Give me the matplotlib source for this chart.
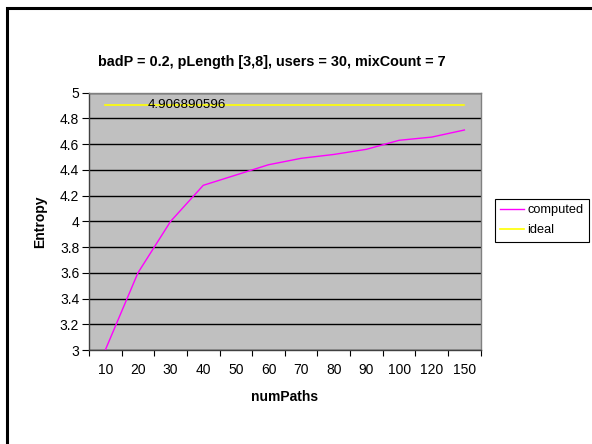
import matplotlib.pyplot as plt
import matplotlib.patches as mpatches
import numpy as np

plt.rcParams['font.family'] = ['Liberation Sans', 'DejaVu Sans']

num_paths = ['10', '20', '30', '40', '50', '60', '70', '80', '90', '100', '120', '150']
computed = [3.00, 3.60, 4.00, 4.28, 4.36, 4.44, 4.49, 4.52, 4.56, 4.63, 4.655, 4.71]
ideal_value = 4.906890596
ideal = [ideal_value] * len(num_paths)

fig = plt.figure(figsize=(5.92, 4.44), dpi=100)
fig.patch.set_facecolor('white')

# outer chart frame
frame = mpatches.Rectangle((7 / 592, -0.05), 1.2, 1.05 - 8 / 444,
                           transform=fig.transFigure, fill=False,
                           edgecolor='black', linewidth=2.2)
fig.patches.append(frame)

ax = fig.add_axes([89 / 592, 1 - 350 / 444, (480.7 - 89) / 592, (350 - 92.7) / 444])
ax.set_facecolor('#C0C0C0')

x = np.arange(len(num_paths))
ax.plot(x, computed, color='#FF00FF', linewidth=1.0, label='computed', zorder=3)
ax.plot(x, ideal, color='#FFFF00', linewidth=1.2, label='ideal', zorder=3)
ax.text(2.5, ideal_value, '4.906890596', ha='center', va='center',
        fontsize=9.6, color='black', zorder=4)

ax.set_xlim(-0.5, len(num_paths) - 0.5)
ax.set_ylim(3, 5)
ax.set_yticks(np.arange(3, 5.01, 0.2))
ax.set_yticklabels(['3', '3.2', '3.4', '3.6', '3.8', '4', '4.2', '4.4', '4.6', '4.8', '5'])
ax.yaxis.grid(True, color='black', linewidth=1.0)
ax.set_axisbelow(True)

ax.set_xticks(x)
ax.set_xticklabels(num_paths)
ax.set_xticks(np.arange(-0.5, len(num_paths), 1.0), minor=True)
ax.tick_params(axis='x', which='major', length=0, pad=9, labelsize=10)
ax.tick_params(axis='x', which='minor', length=4, width=0.8, direction='out')
ax.tick_params(axis='y', length=5, width=0.8, direction='out', labelsize=10, pad=2)

for side in ['left', 'bottom']:
    ax.spines[side].set_color('#404040')
    ax.spines[side].set_linewidth(1.0)
for side in ['top', 'right']:
    ax.spines[side].set_color('#808080')
    ax.spines[side].set_linewidth(1.0)

ax.set_xlabel('numPaths', fontsize=10, fontweight='bold', labelpad=10)
ax.set_ylabel('Entropy', fontsize=10, fontweight='bold', labelpad=9)

fig.text(0.5 * (96 + 447) / 592, 1 - 62 / 444,
         'badP = 0.2, pLength [3,8], users = 30, mixCount = 7',
         ha='center', va='center', fontsize=10.4, fontweight='bold')

leg = ax.legend(loc='upper left', bbox_to_anchor=(495 / 592, 1 - 199 / 444),
                bbox_transform=fig.transFigure, fontsize=9.2, frameon=True,
                fancybox=False, edgecolor='black', framealpha=1,
                borderpad=0.4, labelspacing=0.65, handlelength=1.9,
                handletextpad=0.25, borderaxespad=0)
leg.get_frame().set_linewidth(0.8)

fig.savefig('out.png', dpi=100)
